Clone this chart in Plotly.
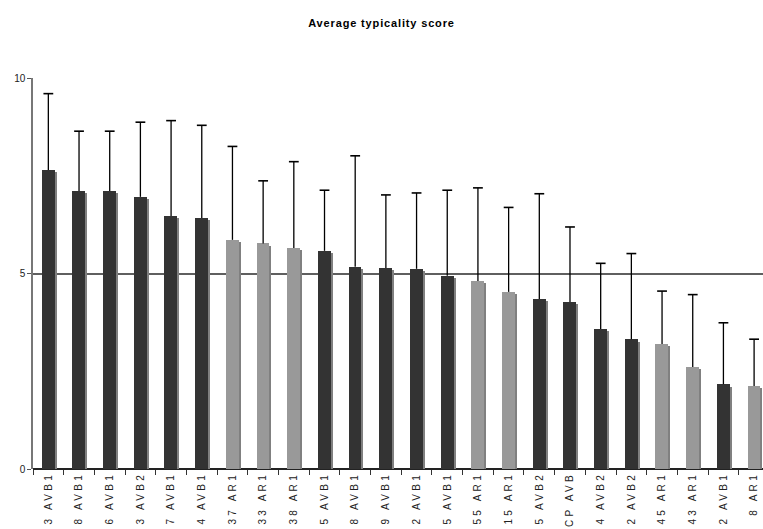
import plotly.graph_objects as go

labels = ["3 AVB1", "8 AVB1", "6 AVB1", "3 AVB2", "7 AVB1", "4 AVB1", "37 AR1", "33 AR1",
          "38 AR1", "5 AVB1", "8 AVB1", "9 AVB1", "2 AVB1", "5 AVB1", "55 AR1", "15 AR1",
          "5 AVB2", "CP AVB", "4 AVB2", "2 AVB2", "45 AR1", "43 AR1", "2 AVB1", "8 AR1"]
means = [7.65, 7.11, 7.11, 6.96, 6.47, 6.42, 5.86, 5.77, 5.65, 5.58, 5.17, 5.14,
         5.12, 4.94, 4.81, 4.53, 4.35, 4.27, 3.58, 3.32, 3.20, 2.61, 2.17, 2.12]
sds = [1.95, 1.53, 1.53, 1.91, 2.44, 2.37, 2.39, 1.60, 2.21, 1.55, 2.84, 1.87,
       1.94, 2.19, 2.38, 2.16, 2.69, 1.92, 1.68, 2.19, 1.35, 1.85, 1.57, 1.20]
groups = ["AVB", "AVB", "AVB", "AVB", "AVB", "AVB", "AR", "AR", "AR", "AVB", "AVB", "AVB",
          "AVB", "AVB", "AR", "AR", "AVB", "AVB", "AVB", "AVB", "AR", "AR", "AVB", "AR"]

x = list(range(1, len(labels) + 1))
colors = ["#333333" if g == "AVB" else "#999999" for g in groups]

fig = go.Figure()
# shadow
fig.add_trace(go.Bar(x=x, y=[m - 0.06 for m in means], width=0.42, offset=-0.15,
                     marker=dict(color="#808080", line=dict(width=0)), showlegend=False,
                     hoverinfo="skip"))
fig.add_trace(go.Bar(x=x, y=means, width=0.42, offset=-0.215,
                     marker=dict(color=colors, line=dict(width=0)), showlegend=False))

ex, ey = [], []
for xi, m, s in zip(x, means, sds):
    ex += [xi, xi, None]
    ey += [m, m + s, None]
fig.add_trace(go.Scatter(x=ex, y=ey, mode="lines", line=dict(color="black", width=1.3),
                         showlegend=False, hoverinfo="skip"))
fig.add_trace(go.Scatter(x=x, y=[m + s for m, s in zip(means, sds)], mode="markers",
                         marker=dict(symbol="line-ew", size=7, line=dict(color="black", width=1.6)),
                         showlegend=False, hoverinfo="skip"))

ticktext = ['<span style="letter-spacing:3.3px">%s</span>' % t for t in labels]
title_text = '<b><span style="letter-spacing:0.85px">Average typicality score</span></b>'

fig.update_layout(
    width=763, height=529,
    margin=dict(l=33, r=0, t=78, b=60),
    plot_bgcolor="white", paper_bgcolor="white",
    barmode="overlay", bargap=0,
    font=dict(family="Liberation Sans, Arial", size=10, color="black"),
    title=dict(text=title_text, x=0.5, xanchor="center",
               y=0.956, yanchor="middle", font=dict(size=11, color="black")),
    xaxis=dict(range=[0.5, 24.29], tickmode="array", tickvals=x, ticktext=ticktext,
               tickangle=-90, ticks="", showgrid=False, zeroline=False,
               showline=False, automargin=False,
               tickfont=dict(size=10, color="#222222"),
               minor=dict(tickmode="array", tickvals=[v + 0.5 for v in [0] + x],
                          ticks="outside", ticklen=5, tickcolor="#333333", tickwidth=1.3)),
    yaxis=dict(range=[0, 10], tickvals=[0, 5, 10], ticks="outside", ticklen=4,
               tickcolor="#555555", showgrid=True, gridcolor="#5f5f5f", gridwidth=1.5,
               zeroline=True, zerolinecolor="#222222", zerolinewidth=1.6,
               showline=True, linecolor="#777777", linewidth=1.5,
               tickfont=dict(size=10, color="#222222"), automargin=False),
)

fig.write_html(
    "out.html",
    config={"displayModeBar": False},
    post_script=("document.body.style.margin='0';"
                 "document.body.style.overflow='hidden';"
                 "document.documentElement.style.overflow='hidden';"),
)
